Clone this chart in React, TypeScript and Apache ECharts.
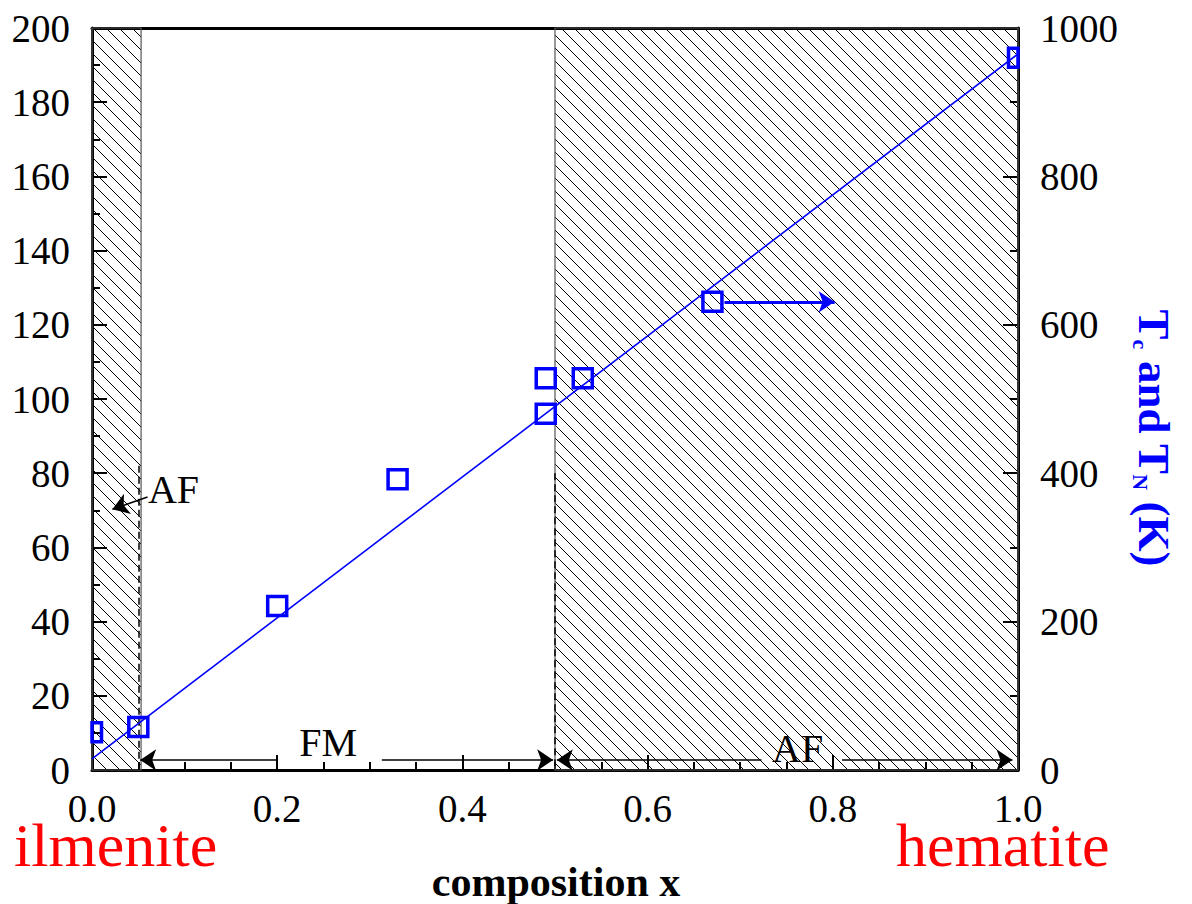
import React, { useEffect, useRef } from "react";
import * as echarts from "echarts";

// ---- data ----
const pointX = [0.0, 0.05, 0.2, 0.33, 0.49, 0.49, 0.53, 0.67, 1.0];
const pointTK = [51, 58, 221, 392, 528, 480, 528, 631, 960];
const fitX = [0.0, 1.0];
const fitTK = [15, 965];
// hatched AF regions: [xStart, xEnd, yMin, yMax] (left-axis units)
const hatchRegions = [
  [0.0, 0.053, 0, 200],
  [0.5, 1.0, 0, 200],
];
// dashed boundaries: [x, yTop]
const dashedLines = [
  [0.05, 82],
  [0.5, 80],
];
// black arrows: [xFrom, yFrom, xTo, yTo] (left-axis units), head at "to"
const blackArrows = [
  [0.2, 2.7, 0.052, 2.7],
  [0.313, 2.7, 0.498, 2.7],
  [0.723, 2.7, 0.502, 2.7],
  [0.81, 2.7, 0.994, 2.7],
  [0.06, 73.6, 0.022, 70.3],
];
// blue arrow (right-axis units)
const blueArrow = [0.683, 631, 0.802, 631];
// annotation texts
const annoText = ["FM", "AF", "AF"];
const annoX = [0.255, 0.762, 0.088];
const annoY = [7.3, 5.9, 75.5];
const xTickLabels = ["0.0", "0.2", "0.4", "0.6", "0.8", "1.0"];

const SERIF = "'Liberation Serif', 'Times New Roman', serif";

export default function App() {
  const ref = useRef<HTMLDivElement>(null);
  useEffect(() => {
    const chart = echarts.init(ref.current!, null, { renderer: "svg" });
    const axisCommon = {
      axisLine: { show: true, onZero: false, lineStyle: { color: "#000", width: 3 } },
      splitLine: { show: false },
    };
    const tickStyle = { width: 2, color: "#000" };
    const labelStyle = { fontFamily: SERIF, fontSize: 39, color: "#000", lineHeight: 30 };
    const option: any = {
      animation: false,
      backgroundColor: "#fff",
      grid: { left: 92, right: 174, top: 28, bottom: 134 },
      xAxis: [
        {
          type: "value",
          min: 0,
          max: 1,
          interval: 0.2,
          position: "bottom",
          ...axisCommon,
          axisTick: { show: true, inside: true, length: 15, lineStyle: tickStyle },
          minorTick: { show: true, splitNumber: 4, length: 8, lineStyle: tickStyle },
          axisLabel: {
            margin: 23,
            ...labelStyle,
            formatter: (v: number) => xTickLabels[Math.round(v / 0.2)] ?? v.toFixed(1),
          },
        },
        {
          type: "value",
          min: 0,
          max: 1,
          position: "top",
          ...axisCommon,
          axisTick: { show: false },
          axisLabel: { show: false },
        },
      ],
      yAxis: [
        {
          type: "value",
          min: 0,
          max: 200,
          interval: 20,
          position: "left",
          ...axisCommon,
          axisTick: { show: true, inside: true, length: 15, lineStyle: tickStyle },
          minorTick: { show: true, splitNumber: 2, length: 8, lineStyle: tickStyle },
          axisLabel: { margin: 22, ...labelStyle, formatter: (v: number) => String(v) },
        },
        {
          type: "value",
          min: 0,
          max: 1000,
          interval: 200,
          position: "right",
          ...axisCommon,
          axisTick: { show: true, inside: true, length: 15, lineStyle: tickStyle },
          minorTick: { show: true, splitNumber: 2, length: 8, lineStyle: tickStyle },
          axisLabel: { margin: 22, ...labelStyle, formatter: (v: number) => String(v) },
        },
      ],
      graphic: [
        {
          type: "text",
          x: 14,
          y: 823,
          style: {
            text: "ilmenite",
            font: `62px ${SERIF}`,
            lineHeight: 44,
            fill: "#ff0000",
            textVerticalAlign: "top",
          },
        },
        {
          type: "text",
          x: 896,
          y: 823,
          style: {
            text: "hematite",
            font: `62px ${SERIF}`,
            lineHeight: 44,
            fill: "#ff0000",
            textVerticalAlign: "top",
          },
        },
        {
          type: "text",
          x: 556,
          y: 861,
          style: {
            text: "composition x",
            font: `bold 42px ${SERIF}`,
            fill: "#000",
            textAlign: "center",
            textVerticalAlign: "top",
          },
        },
        {
          type: "text",
          x: 1154,
          y: 438,
          rotation: -Math.PI / 2,
          style: {
            text: "{b|T}{s|c}{b| and T}{s|N}{b| (K)}",
            textAlign: "center",
            textVerticalAlign: "middle",
            rich: {
              b: { font: `bold 45px ${SERIF}`, fill: "#0000ff", lineHeight: 50, verticalAlign: "middle" },
              s: { font: `bold 22px ${SERIF}`, fill: "#0000ff", lineHeight: 12, verticalAlign: "bottom" },
            },
          },
        },
      ],
      series: [
        {
          type: "custom",
          name: "hatch",
          xAxisIndex: 0,
          yAxisIndex: 0,
          z: 1,
          silent: true,
          data: hatchRegions,
          encode: { x: [0, 1], y: [2, 3] },
          renderItem: (params: any, api: any) => {
            const tl = api.coord([api.value(0), api.value(3)]);
            const br = api.coord([api.value(1), api.value(2)]);
            const L = tl[0], T = tl[1], R = br[0], B = br[1];
            const step = 13;
            const children: any[] = [];
            for (let k = Math.ceil((T - R) / step) * step; k <= B - L; k += step) {
              const xs = Math.max(L, T - k);
              const xe = Math.min(R, B - k);
              if (xe > xs) {
                children.push({
                  type: "line",
                  shape: { x1: xs, y1: xs + k, x2: xe, y2: xe + k },
                  style: { stroke: "#000", lineWidth: 1 },
                });
              }
            }
            children.push({
              type: "rect",
              shape: { x: L, y: T, width: R - L, height: B - T },
              style: { fill: "none", stroke: "#555", lineWidth: 1.2 },
            });
            return { type: "group", children };
          },
        },
        {
          type: "lines",
          name: "dashed",
          coordinateSystem: "cartesian2d",
          xAxisIndex: 0,
          yAxisIndex: 0,
          z: 3,
          silent: true,
          symbol: "none",
          lineStyle: { color: "#000", width: 1.5, type: [7, 4], opacity: 1 },
          data: dashedLines.map((d) => ({ coords: [[d[0], d[1]], [d[0], 0]] })),
        },
        {
          type: "line",
          name: "fit",
          xAxisIndex: 0,
          yAxisIndex: 1,
          z: 4,
          symbol: "none",
          lineStyle: { color: "#0000ff", width: 1.6 },
          data: fitX.map((x, i) => [x, fitTK[i]]),
        },
        {
          type: "lines",
          name: "arrows",
          coordinateSystem: "cartesian2d",
          xAxisIndex: 0,
          yAxisIndex: 0,
          z: 4,
          silent: true,
          symbol: ["none", "arrow"],
          symbolSize: [9, 16],
          lineStyle: { color: "#000", width: 1.5, opacity: 1 },
          data: blackArrows.map((a) => ({ coords: [[a[0], a[1]], [a[2], a[3]]] })),
        },
        {
          type: "lines",
          name: "blueArrow",
          coordinateSystem: "cartesian2d",
          xAxisIndex: 0,
          yAxisIndex: 1,
          z: 4,
          silent: true,
          symbol: ["none", "arrow"],
          symbolSize: [8, 16],
          lineStyle: { color: "#0000ff", width: 3, opacity: 1 },
          data: [{ coords: [[blueArrow[0], blueArrow[1]], [blueArrow[2], blueArrow[3]]] }],
        },
        {
          type: "custom",
          name: "points",
          xAxisIndex: 0,
          yAxisIndex: 1,
          z: 5,
          data: pointX.map((x, i) => [x, pointTK[i]]),
          renderItem: (params: any, api: any) => {
            const c = api.coord([api.value(0), api.value(1)]);
            const cs = params.coordSys;
            const h = 9.5;
            const x0 = Math.max(c[0] - h, cs.x);
            const x1 = Math.min(c[0] + h, cs.x + cs.width);
            const y0 = Math.max(c[1] - h, cs.y);
            const y1 = Math.min(c[1] + h, cs.y + cs.height);
            return {
              type: "rect",
              shape: { x: x0, y: y0, width: x1 - x0, height: y1 - y0 },
              style: { fill: "none", stroke: "#0000ff", lineWidth: 3.5 },
            };
          },
        },
        {
          type: "custom",
          name: "annotations",
          xAxisIndex: 0,
          yAxisIndex: 0,
          z: 6,
          silent: true,
          data: annoText.map((t, i) => [annoX[i], annoY[i], i]),
          renderItem: (params: any, api: any) => {
            const c = api.coord([api.value(0), api.value(1)]);
            const idx = api.value(2);
            return {
              type: "text",
              x: c[0],
              y: c[1],
              style: {
                text: annoText[idx],
                font: `40px ${SERIF}`,
                fill: "#000",
                textAlign: "center",
                textVerticalAlign: "middle",
              },
            };
          },
        },
      ],
    };
    chart.setOption(option);
    return () => chart.dispose();
  }, []);
  return (
    <div
      ref={ref}
      style={{ position: "fixed", left: 0, top: 0, width: 1192, height: 904, background: "#fff" }}
    />
  );
}
